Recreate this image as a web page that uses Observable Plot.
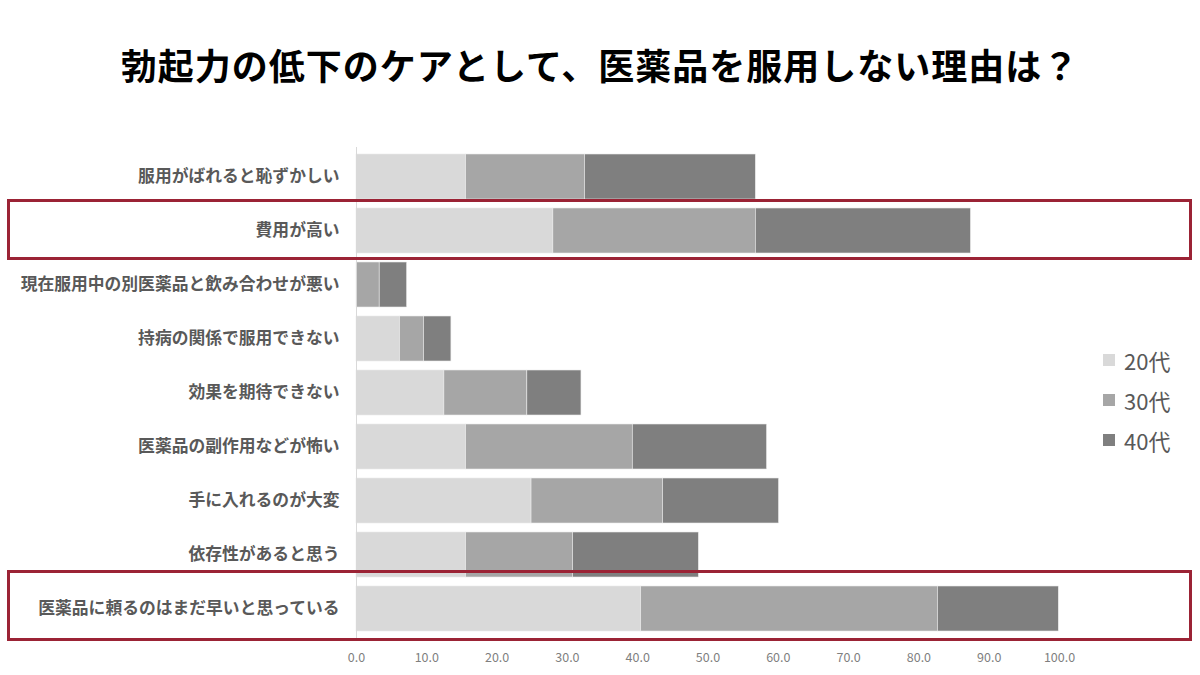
<!DOCTYPE html>
<html>
<head>
<meta charset="utf-8">
<script src="https://cdn.jsdelivr.net/npm/d3@7"></script>
<script src="https://cdn.jsdelivr.net/npm/@observablehq/plot@0.6"></script>
<style>
  html, body { margin: 0; padding: 0; background: #fff; }
  #page { position: relative; width: 1200px; height: 675px; overflow: hidden; font-family: "Noto Sans CJK JP", "Noto Sans", sans-serif; }
  #title { position: absolute; left: 0; top: 0; width: 1200px; height: 120px; display: flex; align-items: center; justify-content: center; padding-top: 8px; box-sizing: border-box; font-size: 36px; font-weight: bold; color: #000; letter-spacing: 1px; }
  #chart { position: absolute; left: 0; top: 120px; }
  .box { position: absolute; border: 3px solid #9b2335; box-sizing: border-box; }
  #legend { position: absolute; left: 1103px; top: 340px; font-size: 22px; color: #595959; }
  .li { display: flex; align-items: center; height: 40px; }
  .sw { width: 12px; height: 12px; margin-right: 9px; }
</style>
</head>
<body>
<div id="page">
  <div id="title">勃起力の低下のケアとして、医薬品を服用しない理由は？</div>
  <div id="chart"></div>
  <div id="legend"></div>
</div>
<script>
const reasons = [
  "服用がばれると恥ずかしい",
  "費用が高い",
  "現在服用中の別医薬品と飲み合わせが悪い",
  "持病の関係で服用できない",
  "効果を期待できない",
  "医薬品の副作用などが怖い",
  "手に入れるのが大変",
  "依存性があると思う",
  "医薬品に頼るのはまだ早いと思っている"
];
const ages = ["20代", "30代", "40代"];
const colors = ["#d9d9d9", "#a6a6a6", "#7f7f7f"];
const v20 = [15.6, 28.0, 0.0, 6.2, 12.5, 15.6, 24.9, 15.6, 40.5];
const v30 = [16.9, 28.8, 3.3, 3.4, 11.8, 23.7, 18.7, 15.2, 42.2];
const v40 = [24.3, 30.6, 3.9, 3.9, 7.7, 19.1, 16.5, 17.9, 17.2];
const xTicks = [0, 10, 20, 30, 40, 50, 60, 70, 80, 90, 100];
const highlighted = ["費用が高い", "医薬品に頼るのはまだ早いと思っている"];

const series = [v20, v30, v40];
const rows = [];
reasons.forEach((r, i) => ages.forEach((a, j) => rows.push({reason: r, age: a, value: series[j][i]})));

const chart = Plot.plot({
  width: 1200,
  height: 555,
  marginTop: 27,
  marginBottom: 36,
  marginLeft: 356,
  marginRight: 141,
  style: { fontFamily: '"Noto Sans CJK JP", "Noto Sans", sans-serif', background: "transparent" },
  x: { domain: [0, 100], ticks: xTicks, tickFormat: d3.format(".1f"), tickSize: 0, tickPadding: 14, label: null },
  y: { domain: reasons, paddingInner: 0.16, paddingOuter: 0.08, label: null, tickSize: 0, tickPadding: 17 },
  color: { domain: ages, range: colors },
  marks: [
    Plot.barX(rows, Plot.stackX({ y: "reason", x: "value", fill: "age", stroke: "#ececec", strokeWidth: 0.6 })),
    Plot.ruleX([0], { stroke: "#d9d9d9" }),
    Plot.axisX({ ticks: xTicks, tickFormat: d3.format(".1f"), tickSize: 0, tickPadding: 14, fontSize: 12.5, fill: "#7f7f7f", label: null }),
    Plot.axisY({ tickSize: 0, tickPadding: 17, fontSize: 16.8, fontWeight: "bold", fill: "#595959", label: null })
  ]
});
document.getElementById("chart").appendChild(chart);

// highlight boxes placed from the y scale
const ys = chart.scale("y");
const bw = ys.bandwidth;
const boxSpecs = [{shift: -1, half: 30.5}, {shift: -3.5, half: 35.5}];
highlighted.forEach((r, k) => {
  const c = ys.apply(r) + bw / 2 + 120 + boxSpecs[k].shift;
  const d = document.createElement("div");
  d.className = "box";
  d.style.left = "7px";
  d.style.width = "1185px";
  d.style.top = (c - boxSpecs[k].half) + "px";
  d.style.height = (2 * boxSpecs[k].half) + "px";
  document.getElementById("page").appendChild(d);
});

const lg = document.getElementById("legend");
ages.forEach((a, i) => {
  const li = document.createElement("div");
  li.className = "li";
  li.innerHTML = `<div class="sw" style="background:${colors[i]}"></div><span>${a}</span>`;
  lg.appendChild(li);
});
</script>
</body>
</html>
